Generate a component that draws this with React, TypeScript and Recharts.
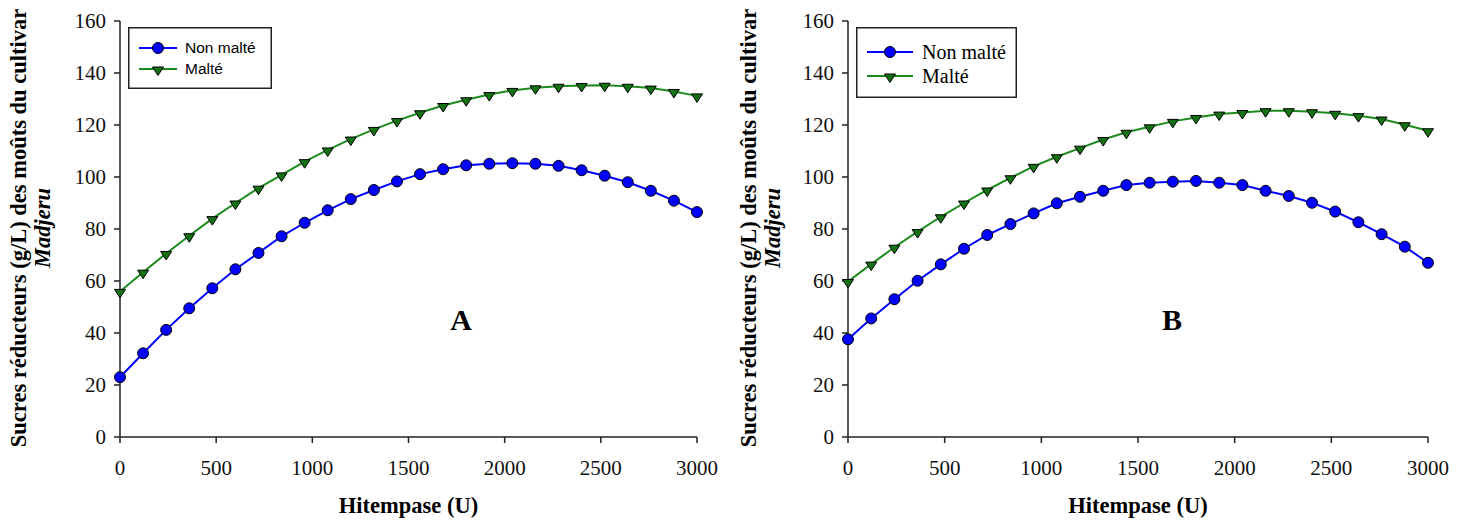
import { LineChart, Line, XAxis, YAxis, Legend } from "recharts";

// Hitempase dose (U)
const hitempase = [
  0, 120, 240, 360, 480, 600, 720, 840, 960, 1080, 1200, 1320, 1440, 1560, 1680,
  1800, 1920, 2040, 2160, 2280, 2400, 2520, 2640, 2760, 2880, 3000,
];

// panel A
const nonMalteA = [
  23, 32.2, 41.2, 49.5, 57.2, 64.5, 70.8, 77.2, 82.4, 87.2, 91.5, 95, 98.3, 101.1,
  103, 104.5, 105.1, 105.3, 105.1, 104.3, 102.6, 100.5, 98, 94.7, 90.9, 86.5,
];
const malteA = [
  56, 63.4, 70.6, 77.4, 84, 90, 95.7, 100.8, 105.9, 110.4, 114.6, 118.3, 121.7,
  124.7, 127.5, 129.7, 131.7, 133.3, 134.3, 134.9, 135.2, 135.3, 134.9, 134.2,
  132.9, 131.2,
];

// panel B
const nonMalteB = [
  37.6, 45.6, 53, 60.1, 66.4, 72.4, 77.7, 81.9, 86, 89.9, 92.4, 94.7, 96.9, 97.8,
  98.2, 98.5, 97.8, 96.9, 94.7, 92.7, 90.1, 86.7, 82.6, 78, 73.2, 67,
];
const malteB = [
  59.8, 66.5, 73, 79, 84.7, 90, 95, 99.7, 104.1, 107.8, 111.1, 114.4, 117.2, 119.3,
  121.4, 122.9, 124.2, 124.8, 125.5, 125.5, 125.1, 124.5, 123.6, 122.3, 120.1, 117.8,
];

const xTicks = [0, 500, 1000, 1500, 2000, 2500, 3000];
const yTicks = [0, 20, 40, 60, 80, 100, 120, 140, 160];

const serif = '"Liberation Serif", "Times New Roman", serif';
const sans = '"Liberation Sans", Arial, sans-serif';
const BLUE = "#0000ff";
const GREEN = "#1c8a1c";
const GREEN_FILL = "#137313";

const Circle = (props: any) => {
  const { cx, cy, index } = props;
  if (cx == null || cy == null) return null;
  return <circle key={`c-${index}`} cx={cx} cy={cy} r={5.5} fill={BLUE} stroke="#000" strokeWidth={1} />;
};

const Triangle = (props: any) => {
  const { cx, cy, index } = props;
  if (cx == null || cy == null) return null;
  return (
    <path
      key={`t-${index}`}
      d={`M${cx - 5.5},${cy - 2}L${cx + 5.5},${cy - 2}L${cx},${cy + 6.5}Z`}
      fill={GREEN_FILL}
      stroke="#000"
      strokeWidth={1}
    />
  );
};

const YTitle = (props: any) => {
  const vb = props.viewBox ?? { x: 0, y: 21, width: 120, height: 416 };
  const cy = vb.y + vb.height / 2 - 1;
  return (
    <g>
      <text
        transform={`translate(${vb.x + 26},${cy}) rotate(-90)`}
        textAnchor="middle"
        fontFamily={serif}
        fontWeight="bold"
        fontSize={22.5}
        fill="#000"
      >
        Sucres réducteurs (g/L) des moûts du cultivar
      </text>
      <text
        transform={`translate(${vb.x + 50},${cy}) rotate(-90)`}
        textAnchor="middle"
        fontFamily={serif}
        fontWeight="bold"
        fontStyle="italic"
        fontSize={22.5}
        fill="#000"
      >
        Madjeru
      </text>
    </g>
  );
};

const XTitle = (props: any) => {
  const vb = props.viewBox ?? { x: 120, y: 437, width: 577, height: 40 };
  return (
    <text
      x={vb.x + vb.width / 2}
      y={vb.y + 76}
      textAnchor="middle"
      fontFamily={serif}
      fontWeight="bold"
      fontSize={22.5}
      fill="#000"
    >
      Hitempase (U)
    </text>
  );
};

type LegendLook = {
  left: number;
  width: number;
  height: number;
  x1: number;
  x2: number;
  textX: number;
  rows: number[];
  font: string;
  fontSize: number;
};

const legendA: LegendLook = { left: 128, width: 144, height: 62, x1: 11, x2: 49, textX: 57, rows: [21, 42], font: sans, fontSize: 15.5 };
const legendB: LegendLook = { left: 126, width: 161, height: 71, x1: 11, x2: 57, textX: 66, rows: [25, 49], font: serif, fontSize: 20 };

function LegendBox({ look }: { look: LegendLook }) {
  const mid = (look.x1 + look.x2) / 2;
  const series = [
    { name: "Non malté", color: BLUE, Dot: Circle },
    { name: "Malté", color: GREEN, Dot: Triangle },
  ];
  return (
    <svg width={look.width} height={look.height} style={{ display: "block" }}>
      <rect x={0.75} y={0.75} width={look.width - 1.5} height={look.height - 1.5} fill="#fff" stroke="#222" strokeWidth={1.5} />
      {series.map((s, i) => (
        <g key={s.name}>
          <line x1={look.x1} x2={look.x2} y1={look.rows[i]} y2={look.rows[i]} stroke={s.color} strokeWidth={2} />
          <s.Dot cx={mid} cy={look.rows[i]} index={i} />
          <text x={look.textX} y={look.rows[i]} dy="0.35em" fontFamily={look.font} fontSize={look.fontSize} fill="#000">
            {s.name}
          </text>
        </g>
      ))}
    </svg>
  );
}

type PanelProps = {
  left: number;
  yAxisWidth: number;
  right: number;
  nonMalte: number[];
  malte: number[];
  letter: string;
  letterX: number;
  legend: LegendLook;
};

function Panel({ left, yAxisWidth, right, nonMalte, malte, letter, letterX, legend }: PanelProps) {
  const data = hitempase.map((h, i) => ({ h, nonMalte: nonMalte[i], malte: malte[i] }));
  return (
    <div style={{ position: "absolute", left, top: 0, width: 730, height: 524 }}>
      <LineChart width={730} height={524} data={data} margin={{ top: 21, right, bottom: 47, left: 0 }}>
        <XAxis
          dataKey="h"
          type="number"
          domain={[0, 3000]}
          ticks={xTicks}
          height={40}
          tickSize={6}
          tickMargin={17}
          axisLine={{ stroke: "#222", strokeWidth: 1.5 }}
          tickLine={{ stroke: "#222", strokeWidth: 1.5 }}
          tick={{ fill: "#111", fontSize: 21, fontFamily: serif }}
          label={XTitle}
        />
        <YAxis
          type="number"
          domain={[0, 160]}
          ticks={yTicks}
          width={yAxisWidth}
          tickSize={6}
          tickMargin={8}
          axisLine={{ stroke: "#222", strokeWidth: 1.5 }}
          tickLine={{ stroke: "#222", strokeWidth: 1.5 }}
          tick={{ fill: "#111", fontSize: 21, fontFamily: serif }}
          label={YTitle}
        />
        <Legend
          layout="horizontal"
          verticalAlign="middle"
          align="center"
          wrapperStyle={{ left: legend.left, top: 27, width: legend.width, height: legend.height }}
          content={() => <LegendBox look={legend} />}
        />
        <Line
          dataKey="nonMalte"
          name="Non malté"
          type="linear"
          stroke={BLUE}
          strokeWidth={2}
          dot={Circle}
          isAnimationActive={false}
        />
        <Line
          dataKey="malte"
          name="Malté"
          type="linear"
          stroke={GREEN}
          strokeWidth={2}
          dot={Triangle}
          isAnimationActive={false}
        />
      </LineChart>
      <div
        style={{
          position: "absolute",
          left: letterX,
          top: 320,
          transform: "translate(-50%, -50%)",
          fontFamily: serif,
          fontWeight: "bold",
          fontSize: 30,
          lineHeight: "30px",
          color: "#000",
        }}
      >
        {letter}
      </div>
    </div>
  );
}

export default function App() {
  return (
    <div style={{ position: "absolute", left: 0, top: 0, width: 1464, height: 524, background: "#fff" }}>
      <Panel left={0} yAxisWidth={120} right={33} nonMalte={nonMalteA} malte={malteA} letter="A" letterX={461} legend={legendA} />
      <Panel left={730} yAxisWidth={118} right={32} nonMalte={nonMalteB} malte={malteB} letter="B" letterX={442} legend={legendB} />
    </div>
  );
}
